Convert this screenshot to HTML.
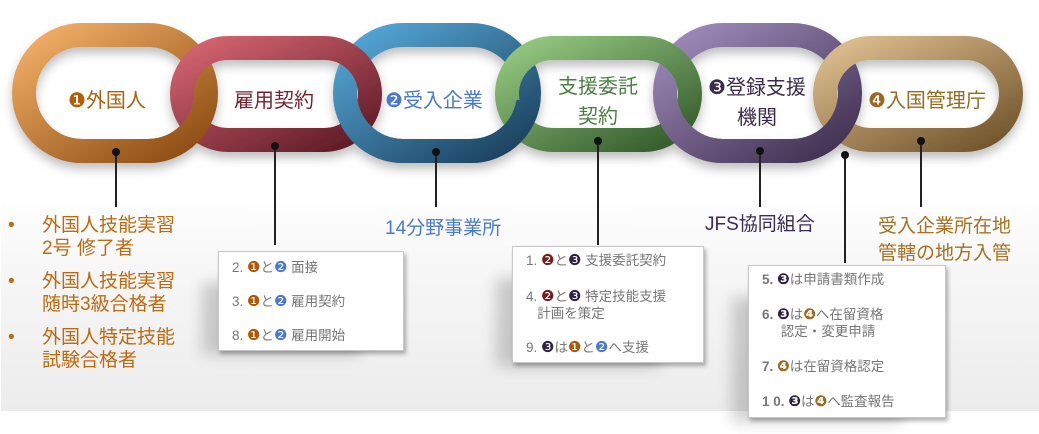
<!DOCTYPE html>
<html><head><meta charset="utf-8"><style>
html,body{margin:0;padding:0;background:#fff;}
body{width:1039px;height:434px;position:relative;overflow:hidden;font-family:"Liberation Sans","Noto Sans CJK JP",sans-serif;}
.bg{position:absolute;left:1px;top:190px;width:1038px;height:221px;background:linear-gradient(#fff 0%,#f6f6f6 40%,#ececec 100%);}
.t{position:absolute;white-space:nowrap;}
.box{position:absolute;background:#fff;border:1px solid #c8c8c8;box-shadow:2px 3px 4px rgba(0,0,0,0.3), -30px 18px 14px -14px rgba(0,0,0,0.18);font-size:13.5px;color:#777;}
.box div{position:absolute;left:13px;white-space:nowrap;line-height:17px;}
.n{font-family:"DejaVu Sans",sans-serif;font-size:15px;}
</style></head><body>
<div class="bg"></div>
<svg width="1039" height="434" style="position:absolute;left:0;top:0">
<defs>
<linearGradient id="g1" x1="0" y1="0" x2="1" y2="1"><stop offset="0" stop-color="#f4b068"/><stop offset="1" stop-color="#8a4a10"/></linearGradient>
<linearGradient id="g2" x1="0" y1="0" x2="1" y2="1"><stop offset="0" stop-color="#d46470"/><stop offset="1" stop-color="#5e1a26"/></linearGradient>
<linearGradient id="g3" x1="0" y1="0" x2="1" y2="1"><stop offset="0" stop-color="#56a8d8"/><stop offset="1" stop-color="#1a3e5a"/></linearGradient>
<linearGradient id="g4" x1="0" y1="0" x2="1" y2="1"><stop offset="0" stop-color="#94c880"/><stop offset="1" stop-color="#345a2c"/></linearGradient>
<linearGradient id="g5" x1="0" y1="0" x2="1" y2="1"><stop offset="0" stop-color="#a08cbc"/><stop offset="1" stop-color="#3e2e4e"/></linearGradient>
<linearGradient id="g6" x1="0" y1="0" x2="1" y2="1"><stop offset="0" stop-color="#dcbe90"/><stop offset="1" stop-color="#72542a"/></linearGradient>
<clipPath id="bot"><rect x="0" y="100" width="1039" height="100"/></clipPath>
<filter id="sh" x="-10%" y="-10%" width="120%" height="140%"><feDropShadow dx="0" dy="6" stdDeviation="5" flood-color="#000" flood-opacity="0.25"/></filter>
</defs>
<g filter="url(#sh)" fill="none" stroke-width="24">
<rect x="24" y="35" width="182" height="116" rx="58" stroke="url(#g1)"/>
<rect x="345" y="35" width="184" height="116" rx="58" stroke="url(#g3)"/>
<rect x="665" y="35" width="185" height="116" rx="58" stroke="url(#g5)"/>
<rect x="182" y="48" width="188" height="92" rx="46" stroke="url(#g2)"/>
<rect x="507" y="48" width="183" height="92" rx="46" stroke="url(#g4)"/>
<rect x="825" y="48" width="186" height="92" rx="46" stroke="url(#g6)"/>
</g>
<g fill="none" stroke-width="24" clip-path="url(#bot)">
<rect x="24" y="35" width="182" height="116" rx="58" stroke="url(#g1)"/>
<rect x="345" y="35" width="184" height="116" rx="58" stroke="url(#g3)"/>
<rect x="665" y="35" width="185" height="116" rx="58" stroke="url(#g5)"/>
</g>
<g stroke="#222" stroke-width="2">
<line x1="116" y1="152" x2="116" y2="207"/>
<line x1="275" y1="146" x2="275" y2="245"/>
<line x1="436" y1="152" x2="436" y2="207"/>
<line x1="598" y1="141" x2="598" y2="245"/>
<line x1="760" y1="151" x2="760" y2="207"/>
<line x1="845" y1="155" x2="845" y2="263"/>
<line x1="921" y1="141" x2="921" y2="207"/>
</g>
<g fill="#111">
<circle cx="116" cy="152" r="4"/><circle cx="275" cy="146" r="4"/><circle cx="436" cy="152" r="4"/>
<circle cx="598" cy="141" r="4"/><circle cx="760" cy="151" r="4"/><circle cx="845" cy="155" r="4"/><circle cx="921" cy="141" r="4"/>
</g>
</svg>
<div class="t" style="left:68px;top:84px;font-size:20px;color:#b0600a"><span style="font-family:'DejaVu Sans'">❶</span>外国人</div>
<div class="t" style="left:234px;top:84px;font-size:20px;color:#7a2030">雇用契約</div>
<div class="t" style="left:385px;top:84px;font-size:20px;color:#4a7ad0"><span style="font-family:'DejaVu Sans'">❷</span>受入企業</div>
<div class="t" style="left:558px;top:72px;font-size:20px;color:#4a8040;text-align:center;line-height:30px">支援委託<br>契約</div>
<div class="t" style="left:708px;top:72px;font-size:20px;color:#3a2a50;text-align:center;line-height:30px"><span style="font-family:'DejaVu Sans'">❸</span>登録支援<br>機関</div>
<div class="t" style="left:868px;top:84px;font-size:20px;color:#9a6a20"><span style="font-family:'DejaVu Sans'">❹</span>入国管理庁</div>

<div class="t" style="left:8px;top:214px;font-size:19px;color:#c06a10;line-height:23px">
<div style="position:relative"><span style="position:absolute;left:0">•</span><div style="margin-left:34px">外国人技能実習<br>2号 修了者</div></div>
<div style="position:relative;margin-top:10px"><span style="position:absolute;left:0">•</span><div style="margin-left:34px">外国人技能実習<br>随時3級合格者</div></div>
<div style="position:relative;margin-top:10px"><span style="position:absolute;left:0">•</span><div style="margin-left:34px">外国人特定技能<br>試験合格者</div></div>
</div>
<div class="t" style="left:385px;top:213px;font-size:19px;color:#4a7ad0">14分野事業所</div>
<div class="t" style="left:705px;top:209px;font-size:19px;color:#3a2a5a">JFS協同組合</div>
<div class="t" style="left:878px;top:213px;font-size:19px;color:#a87020;line-height:27px">受入企業所在地<br>管轄の地方入管</div>

<div class="box" style="left:218px;top:251px;width:184px;height:98px">
<div style="top:7px">2. <span class="n" style="color:#b0580a">❶</span>と<span class="n" style="color:#4a7ad0">❷</span> 面接</div>
<div style="top:41px">3. <span class="n" style="color:#b0580a">❶</span>と<span class="n" style="color:#4a7ad0">❷</span> 雇用契約</div>
<div style="top:75px">8. <span class="n" style="color:#b0580a">❶</span>と<span class="n" style="color:#4a7ad0">❷</span> 雇用開始</div>
</div>
<div class="box" style="left:512px;top:246px;width:190px;height:115px">
<div style="top:5px">1. <span class="n" style="color:#7a1a1a">❷</span>と<span class="n" style="color:#2e2244">❸</span> 支援委託契約</div>
<div style="top:41px">4. <span class="n" style="color:#7a1a1a">❷</span>と<span class="n" style="color:#2e2244">❸</span> 特定技能支援<br>&nbsp;&nbsp;&nbsp;計画を策定</div>
<div style="top:92px">9. <span class="n" style="color:#2e2244">❸</span>は<span class="n" style="color:#b0580a">❶</span>と<span class="n" style="color:#4a7ad0">❷</span>へ支援</div>
</div>
<div class="box" style="left:748px;top:265px;width:196px;height:151px;font-weight:bold">
<div style="top:5px">5. <span class="n" style="color:#2e2244">❸</span><span style="font-weight:normal">は申請書類作成</span></div>
<div style="top:40px">6. <span class="n" style="color:#2e2244">❸</span><span style="font-weight:normal">は</span><span class="n" style="color:#a06a20">❹</span><span style="font-weight:normal">へ在留資格<br>&nbsp;&nbsp;&nbsp;&nbsp;&nbsp;認定・変更申請</span></div>
<div style="top:92px">7. <span class="n" style="color:#a06a20">❹</span><span style="font-weight:normal">は在留資格認定</span></div>
<div style="top:127px">1 0. <span class="n" style="color:#2e2244">❸</span><span style="font-weight:normal">は</span><span class="n" style="color:#a06a20">❹</span><span style="font-weight:normal">へ監査報告</span></div>
</div>
</body></html>
